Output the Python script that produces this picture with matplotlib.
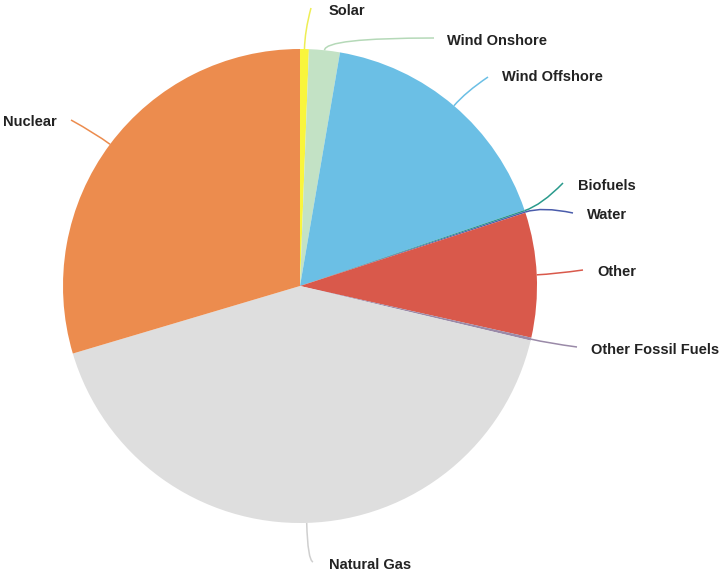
import numpy as np
import matplotlib
matplotlib.use("Agg")
import matplotlib.pyplot as plt
from matplotlib.path import Path
from matplotlib.patches import PathPatch

categories = ["Solar", "Wind Onshore", "Wind Offshore", "Biofuels", "Water",
              "Other", "Other Fossil Fuels", "Natural Gas", "Nuclear"]
values = [0.6, 2.1, 17.1, 0.1, 0.1, 8.5, 0.2, 41.7, 29.6]
colors = ["#f9f53c", "#c3e2c5", "#6bbfe5", "#2a9a8c", "#4a5cab",
          "#d9594b", "#9a8aa8", "#dedede", "#ec8c4e"]

# layout (pixel coords, y from top)
W, H = 720, 576
cx, cy, R = 300, 286, 237
label_pos = {
    "Solar": (329, 11),
    "Wind Onshore": (447, 41),
    "Wind Offshore": (502, 77),
    "Biofuels": (578, 186),
    "Water": (587, 215),
    "Other": (597, 272),
    "Other Fossil Fuels": (591, 350),
    "Natural Gas": (329, 565),
    "Nuclear": (57, 122),
}
line_end = {
    "Solar": (311, 8),
    "Wind Onshore": (434, 38),
    "Wind Offshore": (488, 77),
    "Biofuels": (563, 183),
    "Water": (573, 213),
    "Other": (583, 270),
    "Other Fossil Fuels": (577, 347),
    "Natural Gas": (313, 562),
    "Nuclear": (71, 120),
}
line_colors = {"Natural Gas": "#cfcfcf", "Solar": "#eeee55", "Wind Onshore": "#b5d9b8"}

fig = plt.figure(figsize=(7.2, 5.76), dpi=100)
ax = fig.add_axes([0, 0, 1, 1])
ax.set_xlim(0, W)
ax.set_ylim(0, H)
ax.set_aspect("equal")
ax.axis("off")

wedges, _ = ax.pie(values, colors=colors, startangle=90, counterclock=False,
                   center=(cx, H - cy), radius=R, frame=True,
                   wedgeprops=dict(linewidth=0))
ax.set_xlim(0, W)
ax.set_ylim(0, H)
ax.axis("off")

for w, name in zip(wedges, categories):
    mid = np.deg2rad((w.theta1 + w.theta2) / 2)
    sx = cx + R * np.cos(mid)
    sy = (H - cy) + R * np.sin(mid)
    ex, ey = line_end[name]
    ey = H - ey
    # control point: radially outward a bit
    kx = cx + (R + 18) * np.cos(mid)
    ky = (H - cy) + (R + 18) * np.sin(mid)
    if name == "Natural Gas":
        kx, ky = sx + 1, ey + 2
    if name == "Wind Onshore":
        kx, ky = sx, ey
    path = Path([(sx, sy), (kx, ky), (ex, ey)], [Path.MOVETO, Path.CURVE3, Path.CURVE3])
    ax.add_patch(PathPatch(path, fill=False, lw=1.1,
                           edgecolor=line_colors.get(name, w.get_facecolor())))
    lx, ly = label_pos[name]
    ha = "right" if name == "Nuclear" else "left"
    ax.text(lx, H - ly, name, ha=ha, va="center", fontsize=10.5,
            fontweight="bold", family=["Liberation Sans", "DejaVu Sans"], color="#222222")

fig.savefig("out.png", dpi=100)
